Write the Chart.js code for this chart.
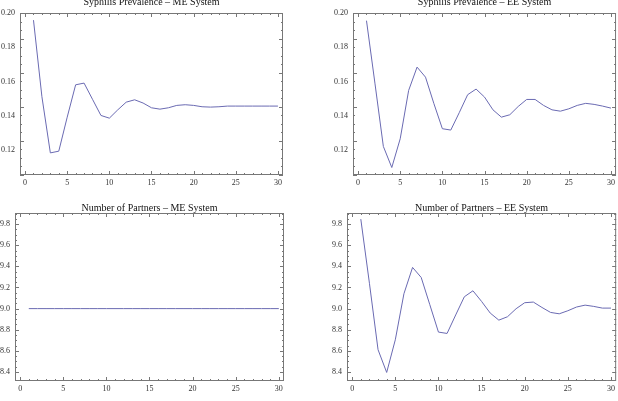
<!DOCTYPE html>
<html>
<head>
<meta charset="utf-8">
<script src="https://cdn.jsdelivr.net/npm/chart.js@4/dist/chart.umd.min.js"></script>
<style>
  body { margin: 0; background: #fff; }
  canvas { position: absolute; }
</style>
</head>
<body>
<canvas id="tl"></canvas>
<canvas id="tr"></canvas>
<canvas id="bl"></canvas>
<canvas id="br"></canvas>
<script>
// time steps
var steps = [1, 2, 3, 4, 5, 6, 7, 8, 9, 10, 11, 12, 13, 14, 15, 16, 17, 18, 19, 20,
             21, 22, 23, 24, 25, 26, 27, 28, 29, 30];

// syphilis prevalence
var prevME = [0.196, 0.151, 0.118, 0.119, 0.139, 0.158, 0.159, 0.1495, 0.140, 0.1384,
              0.1433, 0.1478, 0.1492, 0.1473, 0.1445, 0.1437, 0.1445, 0.1459, 0.1463, 0.1459,
              0.1451, 0.1449, 0.1451, 0.1455, 0.1455, 0.1455, 0.1455, 0.1455, 0.1455, 0.1455];
var prevEE = [0.1957, 0.159, 0.1218, 0.1094, 0.1263, 0.1547, 0.1684, 0.1625, 0.1469, 0.1322,
              0.1314, 0.1416, 0.1522, 0.1555, 0.1508, 0.1433, 0.139, 0.1404, 0.1453, 0.1494,
              0.1494, 0.1459, 0.1433, 0.1425, 0.1439, 0.1459, 0.1471, 0.1465, 0.1455, 0.1443];

// number of partners
var partME = [9.0, 9.0, 9.0, 9.0, 9.0, 9.0, 9.0, 9.0, 9.0, 9.0,
              9.0, 9.0, 9.0, 9.0, 9.0, 9.0, 9.0, 9.0, 9.0, 9.0,
              9.0, 9.0, 9.0, 9.0, 9.0, 9.0, 9.0, 9.0, 9.0, 9.0];
var partEE = [9.847, 9.24, 8.611, 8.396, 8.705, 9.141, 9.390, 9.295, 9.037, 8.778,
              8.765, 8.94, 9.112, 9.169, 9.068, 8.958, 8.891, 8.923, 8.999, 9.056,
              9.062, 9.011, 8.964, 8.951, 8.98, 9.015, 9.033, 9.021, 9.005, 9.005];

// tick labels
var xTicks = [0, 5, 10, 15, 20, 25, 30];
var prevTicks = [0.12, 0.14, 0.16, 0.18, 0.20];
var partTicks = [8.4, 8.6, 8.8, 9.0, 9.2, 9.4, 9.6, 9.8];

var SERIF = '"Liberation Serif", "DejaVu Serif", serif';

// frame with inward ticks on all four sides, plus the plot label
var framePlugin = {
  id: 'frame',
  afterDraw: function (chart, args, o) {
    var ctx = chart.ctx, a = chart.chartArea;
    var xs = chart.scales.x, ys = chart.scales.y;
    ctx.save();
    ctx.strokeStyle = '#777';
    ctx.lineWidth = 1;
    ctx.strokeRect(a.left + 0.5, a.top + 0.5, a.right - a.left - 1, a.bottom - a.top - 1);
    ctx.beginPath();
    function xt(v, len) {
      var p = Math.round(xs.getPixelForValue(v)) + 0.5;
      ctx.moveTo(p, a.bottom); ctx.lineTo(p, a.bottom - len);
      ctx.moveTo(p, a.top); ctx.lineTo(p, a.top + len);
    }
    function yt(v, len) {
      var p = Math.round(ys.getPixelForValue(v)) + 0.5;
      ctx.moveTo(a.left, p); ctx.lineTo(a.left + len, p);
      ctx.moveTo(a.right, p); ctx.lineTo(a.right - len, p);
    }
    for (var i = 0; i <= 30; i++) xt(i, i % 5 === 0 ? 4 : 2);
    var k;
    for (k = 0; k * o.yMinor + o.yStart <= ys.max + 1e-9; k++) {
      var v = o.yStart + k * o.yMinor;
      if (v < ys.min) continue;
      yt(v, k % 4 === 0 ? 4 : 2);
    }
    ctx.stroke();
    ctx.fillStyle = '#111';
    ctx.font = '10px ' + SERIF;
    ctx.textAlign = 'center';
    ctx.textBaseline = 'alphabetic';
    ctx.fillText(o.title, (a.left + a.right) / 2, a.top - o.gap);
    ctx.restore();
  }
};

function panel(id, box, frame, title, gap, values, yMin, yMax, yTicks, digits, yStart, yMinor) {
  var cv = document.getElementById(id);
  cv.style.left = box[0] + 'px';
  cv.style.top = box[1] + 'px';
  cv.width = box[2];
  cv.height = box[3];
  var xAxisH = 16;
  var pts = steps.map(function (s, i) { return { x: s, y: values[i] }; });
  return new Chart(cv.getContext('2d'), {
    type: 'line',
    data: {
      datasets: [{
        data: pts,
        borderColor: '#6a6ab2',
        borderWidth: 1,
        pointRadius: 0,
        tension: 0,
        fill: false
      }]
    },
    options: {
      responsive: false,
      animation: false,
      layout: {
        padding: {
          left: 0,
          top: frame[1] - box[1],
          right: box[2] - (frame[2] - box[0]),
          bottom: box[3] - (frame[3] - box[1]) - xAxisH
        }
      },
      plugins: {
        legend: { display: false },
        tooltip: { enabled: false },
        frame: { title: title, gap: gap, yStart: yStart, yMinor: yMinor }
      },
      scales: {
        x: {
          type: 'linear',
          min: -0.6,
          max: 30.6,
          afterBuildTicks: function (s) { s.ticks = xTicks.map(function (v) { return { value: v }; }); },
          afterFit: function (s) { s.height = xAxisH; },
          grid: { display: false, drawTicks: false },
          border: { display: false },
          ticks: {
            padding: 3,
            color: '#333',
            font: { family: SERIF, size: 8 },
            maxRotation: 0,
            callback: function (v) { return String(v); }
          }
        },
        y: {
          type: 'linear',
          min: yMin,
          max: yMax,
          afterBuildTicks: function (s) { s.ticks = yTicks.map(function (v) { return { value: v }; }); },
          afterFit: function (s) { s.width = frame[0] - box[0]; },
          grid: { display: false, drawTicks: false },
          border: { display: false },
          ticks: {
            padding: 5,
            color: '#333',
            font: { family: SERIF, size: 8 },
            callback: function (v) { return Number(v).toFixed(digits); }
          }
        }
      }
    },
    plugins: [framePlugin]
  });
}

panel('tl', [0, 0, 305, 195], [20, 13, 283, 175], 'Syphilis Prevalence \u2013 ME System', 8,
      prevME, 0.105, 0.2002, prevTicks, 2, 0.105, 0.005);
panel('tr', [305, 0, 313, 195], [353, 13, 617, 175], 'Syphilis Prevalence \u2013 EE System', 8,
      prevEE, 0.105, 0.2002, prevTicks, 2, 0.105, 0.005);
panel('bl', [0, 197, 305, 204], [15, 213, 284, 381], 'Number of Partners \u2013 ME System', 2,
      partME, 8.315, 9.905, partTicks, 1, 8.4, 0.05);
panel('br', [305, 197, 313, 204], [347, 213, 617, 381], 'Number of Partners \u2013 EE System', 2,
      partEE, 8.315, 9.905, partTicks, 1, 8.4, 0.05);
</script>
</body>
</html>
